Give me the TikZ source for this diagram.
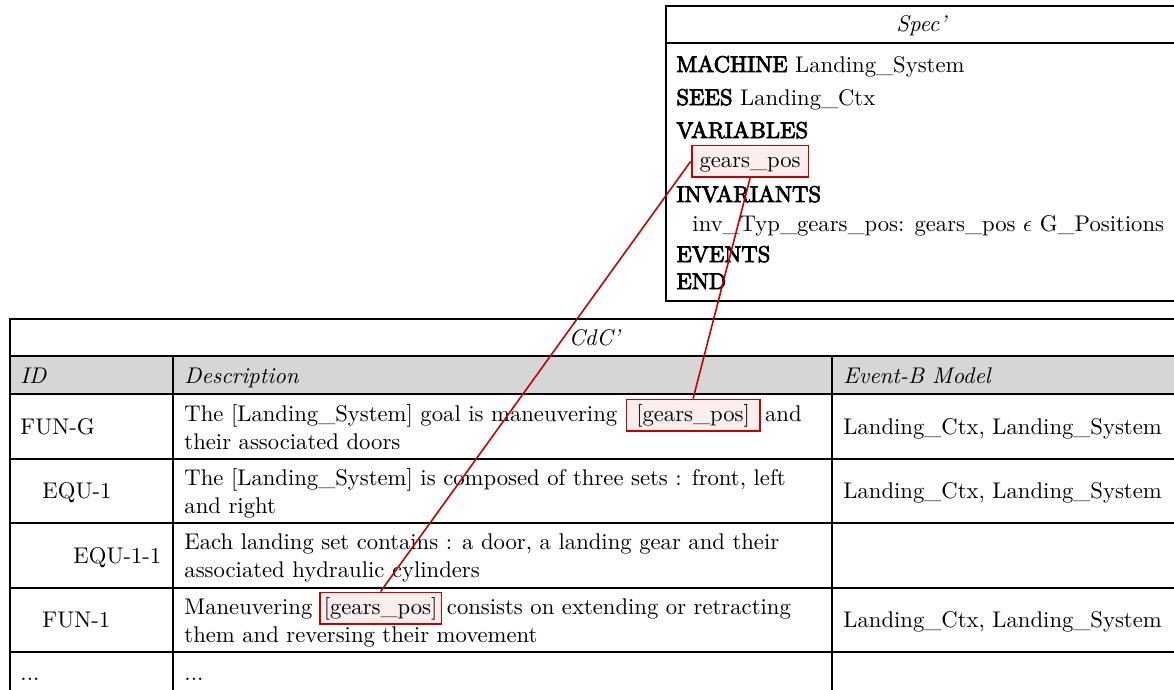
\documentclass[tikz,border=0pt]{standalone}
\usepackage{fontspec}
\newfontfamily\kwfont{lmroman10-regular.otf}[FakeBold=3.5]
\definecolor{hlred}{RGB}{200,0,0}
\definecolor{hlfill}{RGB}{253,238,238}
\definecolor{hdrgray}{RGB}{214,214,214}
\newcommand{\kw}[1]{{\kwfont #1}}
\begin{document}
\begin{tikzpicture}[x=0.441pt,y=-0.441pt,
  txt/.style={anchor=base west,inner sep=0pt,font=\fontsize{10}{12}\selectfont},
  ctxt/.style={anchor=base,inner sep=0pt,font=\fontsize{10}{12}\selectfont},
  hl/.style={draw=hlred,fill=hlfill,line width=0.8pt,anchor=base west,text height=7.5pt,text depth=2.5pt,inner ysep=2pt,font=\fontsize{10}{12}\selectfont},
  link/.style={draw=hlred,line width=0.7pt},
  rule/.style={line width=0.85pt,draw=black}]
\useasboundingbox (0,0) rectangle (1174,689);
\clip (0,0) rectangle (1174,689);
% ---------- Spec' box ----------
\draw[rule,fill=white] (666,6) rectangle (1178,301);
\draw[rule] (666,43) -- (1178,43);
\node[ctxt] (spectitle) at (922,31) {\textit{Spec'}};
\node[txt] (mach) at (676,72) {\kw{MACHINE} Landing\_System};
\node[txt] (sees) at (676,105) {\kw{SEES} Landing\_Ctx};
\node[txt] (vars) at (676,138) {\kw{VARIABLES}};
\node[hl,inner xsep=3.5pt] (sg) at (690.7,167) {gears\_pos};
\node[txt] (invs) at (676,202) {\kw{INVARIANTS}};
\node[txt] (inv) at (692,231) {inv\_Typ\_gears\_pos: gears\_pos $\epsilon$ G\_Positions};
\node[txt] (evts) at (676,262) {\kw{EVENTS}};
\node[txt] (endk) at (676,289) {\kw{END}};
% ---------- CdC' table ----------
\fill[hdrgray] (10,356) rectangle (1180,394);
\draw[rule] (10,319) rectangle (1180,720);
\foreach \yy in {356,394,459,523,588,652} \draw[rule] (10,\yy) -- (1180,\yy);
\foreach \xx in {173,832} \draw[rule] (\xx,356) -- (\xx,720);
\node[ctxt] (cdc) at (595,345) {\textit{CdC'}};
\node[txt] (hid) at (20,383) {\textit{ID}};
\node[txt] (hdesc) at (184,383) {\textit{Description}};
\node[txt] (hmod) at (843,383) {\textit{Event-B Model}};
% row FUN-G
\node[txt] (id1) at (20,434) {FUN-G};
\node[txt] (d1a) at (184,421) {The [Landing\_System] goal is maneuvering};
\node[hl,inner xsep=4.3pt] (tg1) at ([xshift=3.5pt]d1a.base east) {[gears\_pos]};
\node[txt] (d1b) at ([xshift=1.8pt]tg1.base east) {and};
\node[txt] (d1c) at (184,449) {their associated doors};
\node[txt] (m1) at (843,434) {Landing\_Ctx, Landing\_System};
% row EQU-1
\node[txt] (id2) at (42,498) {EQU-1};
\node[txt] (d2a) at (184,485) {The [Landing\_System] is composed of three sets : front, left};
\node[txt] (d2b) at (184,513) {and right};
\node[txt] (m2) at (843,498) {Landing\_Ctx, Landing\_System};
% row EQU-1-1
\node[txt] (id3) at (73,563) {EQU-1-1};
\node[txt] (d3a) at (184,549) {Each landing set contains : a door, a landing gear and their};
\node[txt] (d3b) at (184,577) {associated hydraulic cylinders};
% row FUN-1
\node[txt] (id4) at (42,627) {FUN-1};
\node[txt] (d4a) at (184,614) {Maneuvering};
\node[hl,inner xsep=1.8pt] (tg2) at ([xshift=2.6pt]d4a.base east) {[gears\_pos]};
\node[txt] (d4b) at ([xshift=1.8pt]tg2.base east) {consists on extending or retracting};
\node[txt] (d4c) at (184,642) {them and reversing their movement};
\node[txt] (m4) at (843,627) {Landing\_Ctx, Landing\_System};
% row ...
\node[txt] (id5) at (20,680) {...};
\node[txt] (d5) at (184,680) {...};
% ---------- links ----------
\draw[link] (sg.west) -- (tg2.north);
\draw[link] (sg.south) -- (tg1.north);
\end{tikzpicture}
\end{document}
